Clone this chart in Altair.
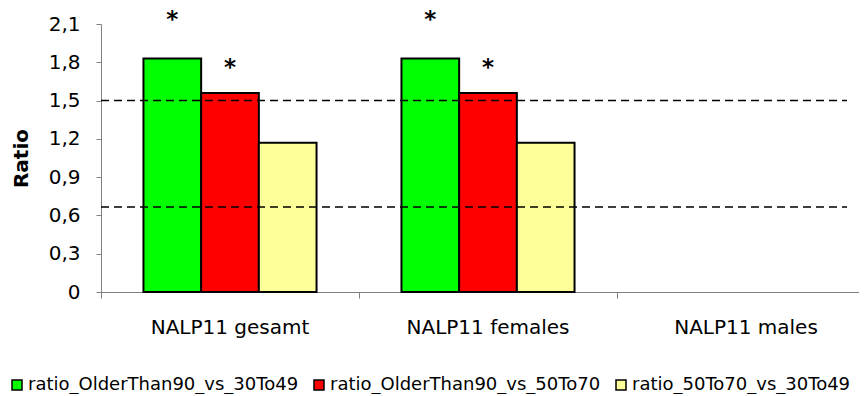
import altair as alt
import pandas as pd

categories = ["NALP11 gesamt", "NALP11 females", "NALP11 males"]
series = ["ratio_OlderThan90_vs_30To49", "ratio_OlderThan90_vs_50To70", "ratio_50To70_vs_30To49"]
colors = ["#00FF00", "#FF0000", "#FFFF99"]
gesamt_vals = [1.83, 1.56, 1.17]
females_vals = [1.83, 1.56, 1.17]
thresholds = [1.5, 0.667]
star_cats = ["NALP11 gesamt", "NALP11 gesamt", "NALP11 females", "NALP11 females"]
star_series = [series[0], series[1], series[0], series[1]]
star_y = [2.16, 1.79, 2.16, 1.79]
y_ticks = [0, 0.3, 0.6, 0.9, 1.2, 1.5, 1.8, 2.1]

rows = []
for s, v in zip(series, gesamt_vals):
    rows.append({"cat": categories[0], "series": s, "value": v})
for s, v in zip(series, females_vals):
    rows.append({"cat": categories[1], "series": s, "value": v})
bars_df = pd.DataFrame(rows)
stars_df = pd.DataFrame({"cat": star_cats, "series": star_series, "sy": star_y})
rules_df = pd.DataFrame({"t": thresholds})

FONT = "DejaVu Sans"
GRAY = "#808080"

x_scale = alt.Scale(domain=categories, range=[0, 774], paddingInner=0, paddingOuter=0)
x_axis = alt.Axis(title=None, bandPosition=0, tickSize=6,
                  tickColor=GRAY, domainColor=GRAY, labelPadding=19,
                  labelFontSize=20, labelFont=FONT, labelColor="black",
                  labelAngle=0, labelLimit=0, labelOverlap=False)
y_scale = alt.Scale(domain=[0, 2.1], nice=False)
y_axis = alt.Axis(title="Ratio", values=y_ticks, tickCount=8,
                  labelExpr="datum.value == 0 ? '0' : replace(format(datum.value, '.1f'), '.', ',')",
                  grid=False, tickSize=5, tickColor=GRAY, domainColor=GRAY,
                  labelPadding=16, labelFontSize=20, labelFont=FONT, labelColor="black",
                  labelOverlap=False, labelFlush=False, labelBound=False,
                  titleFont=FONT, titleFontSize=20, titleFontWeight="bold",
                  titleColor="black", titlePadding=17)
xoff_scale = alt.Scale(domain=series, paddingInner=0, paddingOuter=0.736)

bars = alt.Chart(bars_df).mark_bar(stroke="black", strokeWidth=2).encode(
    x=alt.X("cat:N", scale=x_scale, axis=x_axis),
    xOffset=alt.XOffset("series:N", scale=xoff_scale),
    y=alt.Y("value:Q", scale=y_scale, axis=y_axis),
    color=alt.Color("series:N", scale=alt.Scale(domain=series, range=colors),
                    legend=alt.Legend(title=None, orient="none", legendX=-93, legendY=352,
                                      direction="horizontal", symbolType="square",
                                      symbolSize=100, symbolStrokeColor="black",
                                      symbolStrokeWidth=1.5, labelFont=FONT, labelFontSize=18,
                                      labelColor="black", labelOffset=2, columnPadding=11,
                                      padding=0, labelLimit=0)),
)

stars = alt.Chart(stars_df).mark_text(text="*", fontSize=23, fontWeight="bold",
                                      baseline="middle", dy=4, font=FONT, color="black").encode(
    x=alt.X("cat:N", scale=x_scale, axis=x_axis),
    xOffset=alt.XOffset("series:N", scale=xoff_scale),
    y=alt.Y("sy:Q", scale=y_scale, axis=y_axis),
)

rules = alt.Chart(rules_df).mark_rule(strokeDash=[8, 5], strokeWidth=1.5, color="black").encode(
    y=alt.Y("t:Q", scale=y_scale, axis=y_axis),
    x=alt.value(0),
    x2=alt.value(746),
)

chart = alt.layer(bars, rules, stars).properties(
    width=758, height=268,
    autosize=alt.AutoSizeParams(type="none"),
    padding={"left": 93, "top": 16, "right": 0, "bottom": 102},
    background="white",
).configure_view(stroke=None)

chart.save("out.html", embed_options={"renderer": "svg", "actions": False})
